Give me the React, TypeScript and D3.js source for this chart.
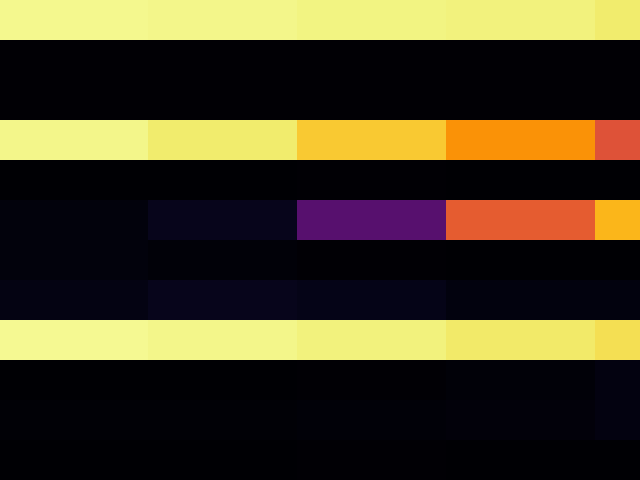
import { useEffect, useRef } from 'react';
import * as d3 from 'd3';

const rows = ['r0', 'r1', 'r2', 'r3', 'r4', 'r5', 'r6', 'r7', 'r8', 'r9', 'r10', 'r11'];
const cols = ['c0', 'c1', 'c2', 'c3', 'c4'];

// values on a 0..1 scale, one array per row
const row0 = [0.975, 0.972, 0.962, 0.958, 0.945];
const row1 = [0.004, 0.004, 0.006, 0.006, 0.006];
const row2 = [0.004, 0.004, 0.006, 0.006, 0.006];
const row3 = [0.972, 0.942, 0.872, 0.758, 0.605];
const row4 = [0.002, 0.002, 0.004, 0.003, 0.002];
const row5 = [0.02, 0.05, 0.25, 0.63, 0.834];
const row6 = [0.02, 0.015, 0.005, 0.003, 0.001];
const row7 = [0.035, 0.05, 0.04, 0.025, 0.025];
const row8 = [0.977, 0.97, 0.958, 0.938, 0.915];
const row9 = [0.003, 0.003, 0.005, 0.012, 0.03];
const row10 = [0.008, 0.008, 0.012, 0.018, 0.03];
const row11 = [0.003, 0.003, 0.005, 0.001, 0.001];

const values = [row0, row1, row2, row3, row4, row5, row6, row7, row8, row9, row10, row11];

export default function App() {
  const svgRef = useRef<SVGSVGElement>(null);

  useEffect(() => {
    document.body.style.margin = '0';
    if (!svgRef.current) return;
    d3.select(svgRef.current).selectAll('*').remove();

    const width = 640;
    const height = 480;
    const colWidth = 149;

    const svg = d3.select(svgRef.current).attr('width', width).attr('height', height);

    // heatmap runs past the right edge; first column starts just off-canvas
    const x = d3.scaleBand().domain(cols).range([-1, -1 + colWidth * cols.length]);
    const y = d3.scaleBand().domain(rows).range([0, height]);
    const color = d3.scaleSequential(d3.interpolateInferno).domain([0, 1]);

    const cells = values.flatMap((r, i) => r.map((v, j) => ({ row: rows[i], col: cols[j], v })));

    svg
      .selectAll('rect')
      .data(cells)
      .enter()
      .append('rect')
      .attr('x', (d) => x(d.col)!)
      .attr('y', (d) => y(d.row)!)
      .attr('width', x.bandwidth() + 0.5)
      .attr('height', y.bandwidth() + 0.5)
      .attr('fill', (d) => color(d.v))
      .attr('shape-rendering', 'crispEdges');
  }, []);

  return <svg ref={svgRef} style={{ display: 'block' }} />;
}
